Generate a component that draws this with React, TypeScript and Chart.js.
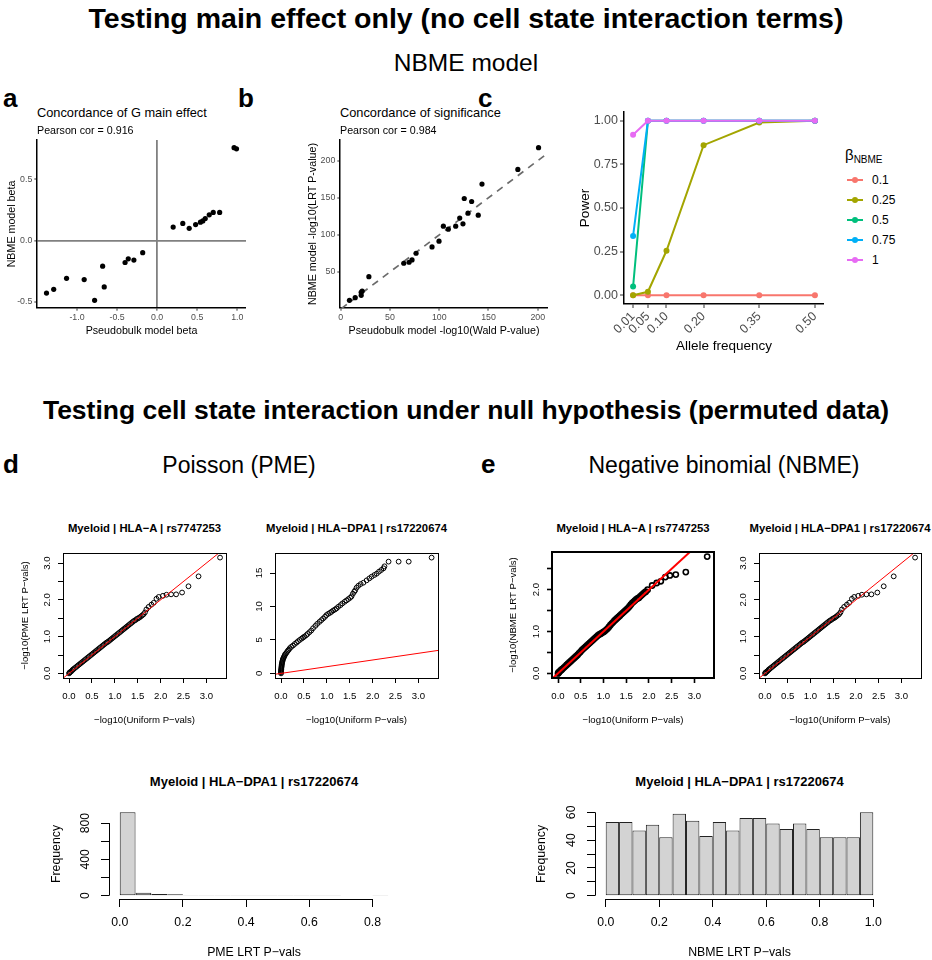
import React, { useEffect, useRef } from 'react';
import { Chart, registerables } from 'chart.js';

Chart.register(...registerables);

const FONT = '"Liberation Sans", Arial, Helvetica, sans-serif';
Chart.defaults.font.family = FONT;
Chart.defaults.color = '#000';

/* ================= DATA ================= */
// panel a: concordance of G main effect
const aPseudobulkBeta = [-1.38, -1.29, -1.13, -0.91, -0.78, -0.68, -0.66, -0.40, -0.36, -0.29, -0.18, 0.20, 0.32, 0.40, 0.48, 0.54, 0.57, 0.60, 0.65, 0.70, 0.78, 0.96, 0.99];
const aNbmeBeta = [-0.43, -0.40, -0.31, -0.32, -0.49, -0.21, -0.38, -0.18, -0.15, -0.16, -0.10, 0.11, 0.14, 0.10, 0.13, 0.15, 0.16, 0.18, 0.21, 0.23, 0.23, 0.76, 0.75];
const aXTicks = [-1, -0.5, 0, 0.5, 1];
const aYTicks = [-0.5, 0, 0.5];

// panel b: concordance of significance
const bPseudobulkLogP = [8.9, 14.7, 20.8, 20.8, 21.8, 28.6, 64.0, 69.4, 72.4, 76.5, 92.7, 99.8, 104.2, 109.2, 116.7, 120.8, 124.1, 125.4, 129.2, 132.9, 139.6, 143.4, 179.8, 200.8];
const bNbmeLogP = [11.7, 15.3, 18.5, 22.5, 24.3, 43.7, 61.7, 63.1, 66.2, 75.2, 83.8, 91.5, 111.7, 107.7, 111.7, 122.6, 114.9, 149.0, 129.3, 145.0, 126.6, 168.5, 188.2, 217.6];
const bXTicks = [0, 50, 100, 150, 200];
const bYTicks = [50, 100, 150, 200];
const bReferenceLine = [-10, 240]; // dashed y = x line

// panel c: power
const cAlleleFreq = [0.01, 0.05, 0.10, 0.20, 0.35, 0.50];
const cBetaLabels = ['0.1', '0.25', '0.5', '0.75', '1'];
const cPowerBeta01 = [0, 0, 0, 0, 0, 0];
const cPowerBeta025 = [0.0, 0.02, 0.255, 0.86, 0.99, 1.0];
const cPowerBeta05 = [0.05, 1, 1, 1, 1, 1];
const cPowerBeta075 = [0.34, 1, 1, 1, 1, 1];
const cPowerBeta1 = [0.92, 1, 1, 1, 1, 1];
const cColors = ['#F8766D', '#A3A500', '#00BF7D', '#00B0F6', '#E76BF3'];
const cYTicks = [0, 0.25, 0.5, 0.75, 1];

// QQ plots: [-log10(uniform p), -log10(observed p)]
const qqPmeHlaA: number[][] = [
  [0.00, 0.00], [0.01, 0.02], [0.02, 0.03], [0.04, 0.05], [0.06, 0.07], [0.08, 0.10], [0.10, 0.12], [0.13, 0.15], [0.16, 0.18], [0.19, 0.21],
  [0.22, 0.24], [0.25, 0.27], [0.28, 0.30], [0.31, 0.33], [0.34, 0.36], [0.37, 0.39], [0.40, 0.42], [0.43, 0.45], [0.46, 0.48], [0.49, 0.51],
  [0.52, 0.54], [0.55, 0.57], [0.58, 0.60], [0.61, 0.63], [0.64, 0.66], [0.67, 0.69], [0.70, 0.72], [0.73, 0.75], [0.76, 0.78], [0.79, 0.81],
  [0.82, 0.84], [0.85, 0.86], [0.88, 0.89], [0.91, 0.92], [0.94, 0.95], [0.97, 0.98], [1.00, 1.01], [1.03, 1.04], [1.06, 1.07], [1.09, 1.10],
  [1.12, 1.13], [1.15, 1.16], [1.18, 1.19], [1.21, 1.22], [1.24, 1.25], [1.27, 1.28], [1.30, 1.31], [1.33, 1.34], [1.36, 1.37], [1.39, 1.40],
  [1.42, 1.43], [1.45, 1.45], [1.48, 1.48], [1.51, 1.50], [1.54, 1.52], [1.57, 1.55], [1.60, 1.58], [1.63, 1.61], [1.66, 1.66], [1.69, 1.74],
  [1.74, 1.81], [1.80, 1.87], [1.85, 1.92], [1.91, 2.03], [1.96, 2.08], [2.05, 2.11], [2.13, 2.14], [2.23, 2.15], [2.34, 2.15], [2.47, 2.20],
  [2.61, 2.37], [2.83, 2.64], [3.30, 3.15],
];
const qqPmeHlaDpa1: number[][] = [
  [0.00, 0.00], [0.00, 0.15], [0.00, 0.30], [0.00, 0.45], [0.005, 0.60], [0.005, 0.75], [0.01, 0.90], [0.01, 1.05], [0.015, 1.20], [0.015, 1.35],
  [0.02, 1.50], [0.025, 1.65], [0.03, 1.80], [0.035, 1.95], [0.04, 2.10], [0.05, 2.25], [0.06, 2.40], [0.07, 2.55], [0.08, 2.70], [0.09, 2.85],
  [0.11, 3.00], [0.13, 3.20], [0.15, 3.40], [0.17, 3.55], [0.19, 3.75], [0.22, 3.95], [0.26, 4.15], [0.30, 4.40], [0.34, 4.60], [0.37, 4.80],
  [0.41, 5.00], [0.45, 5.20], [0.48, 5.35], [0.51, 5.50], [0.55, 5.70], [0.58, 5.90], [0.62, 6.15], [0.66, 6.40], [0.70, 6.75], [0.75, 7.10],
  [0.79, 7.40], [0.84, 7.70], [0.88, 7.95], [0.92, 8.20], [0.96, 8.45], [0.99, 8.70], [1.03, 8.90], [1.07, 9.05], [1.10, 9.20], [1.14, 9.40],
  [1.18, 9.55], [1.21, 9.70], [1.25, 9.95], [1.30, 10.20], [1.34, 10.45], [1.39, 10.70], [1.43, 10.90], [1.47, 11.10], [1.51, 11.30], [1.54, 11.50],
  [1.57, 11.90], [1.60, 12.20], [1.62, 12.40], [1.65, 12.80], [1.69, 13.10], [1.74, 13.35], [1.80, 13.55], [1.87, 13.90], [1.93, 14.20], [1.98, 14.45],
  [2.04, 14.70], [2.09, 14.90], [2.14, 15.20], [2.19, 15.45], [2.24, 15.70], [2.26, 16.00], [2.35, 16.70], [2.57, 16.70], [2.79, 16.70], [3.29, 17.30],
];
const qqNbmeHlaA: number[][] = [
  [0.00, 0.00], [0.01, 0.01], [0.02, 0.03], [0.04, 0.05], [0.06, 0.07], [0.08, 0.09], [0.10, 0.11], [0.13, 0.14], [0.16, 0.17], [0.19, 0.20],
  [0.22, 0.23], [0.25, 0.26], [0.28, 0.29], [0.31, 0.32], [0.34, 0.35], [0.37, 0.38], [0.40, 0.41], [0.43, 0.44], [0.46, 0.48], [0.49, 0.51],
  [0.52, 0.55], [0.55, 0.58], [0.58, 0.61], [0.61, 0.64], [0.64, 0.67], [0.67, 0.70], [0.70, 0.73], [0.73, 0.76], [0.76, 0.79], [0.79, 0.82],
  [0.82, 0.85], [0.85, 0.88], [0.88, 0.91], [0.91, 0.93], [0.94, 0.95], [0.97, 0.97], [1.00, 0.99], [1.03, 1.01], [1.06, 1.04], [1.09, 1.07],
  [1.12, 1.11], [1.15, 1.15], [1.18, 1.19], [1.21, 1.22], [1.24, 1.26], [1.27, 1.29], [1.30, 1.32], [1.33, 1.35], [1.36, 1.38], [1.39, 1.41],
  [1.42, 1.44], [1.45, 1.47], [1.48, 1.50], [1.51, 1.53], [1.54, 1.56], [1.57, 1.60], [1.60, 1.64], [1.63, 1.68], [1.66, 1.71], [1.69, 1.74],
  [1.72, 1.77], [1.75, 1.79], [1.78, 1.81], [1.81, 1.84], [1.84, 1.87], [1.87, 1.90], [1.90, 1.93], [1.93, 1.95], [1.97, 2.00], [2.07, 2.10],
  [2.17, 2.16], [2.26, 2.20], [2.36, 2.30], [2.46, 2.34], [2.59, 2.36], [2.81, 2.42], [3.28, 2.79],
];
const qqNbmeHlaDpa1: number[][] = qqPmeHlaA.map((p) => [p[0], p[1]]); // identical-looking panel
const qqXTicks = [0, 0.5, 1, 1.5, 2, 2.5, 3];
const qqReference = [-1, 20]; // red y = x line

// histograms of LRT p-values (bin width 0.05)
const pmeBinMids = [0.025, 0.075, 0.125, 0.175, 0.225, 0.275, 0.325, 0.375, 0.425, 0.475, 0.525, 0.575, 0.625, 0.675, 0.725, 0.775, 0.825];
const pmeCounts = [918, 33, 18, 15, 3, 2, 2, 1, 2, 1, 1, 1, 1, 1, 0, 0, 1];
const nbmeBinMids = [0.025, 0.075, 0.125, 0.175, 0.225, 0.275, 0.325, 0.375, 0.425, 0.475, 0.525, 0.575, 0.625, 0.675, 0.725, 0.775, 0.825, 0.875, 0.925, 0.975];
const nbmeCounts = [53, 53, 47, 51, 42, 59, 54, 43, 53, 47, 56, 56, 52, 48, 52, 48, 42, 42, 42, 60];

/* ================= HELPERS ================= */
type Frame = { left: number; top: number; width: number; height: number; box: number[] }; // box: x0,y0,x1,y1 (page px)

const zeroPad = (s: any) => { s.paddingLeft = 0; s.paddingRight = 0; s.paddingTop = 0; s.paddingBottom = 0; };
const fixWidth = (w: number) => (s: any) => { s.width = w; zeroPad(s); };
const fixHeight = (h: number) => (s: any) => { s.height = h; zeroPad(s); };
const useTicks = (vals: number[]) => (s: any) => { s.ticks = vals.map((v) => ({ value: v })); };

function base(f: Frame, scales: any) {
  return {
    animation: false,
    responsive: false,
    maintainAspectRatio: false,
    devicePixelRatio: 1,
    events: [],
    layout: { padding: { left: 0, bottom: 0, top: f.box[1] - f.top, right: f.left + f.width - f.box[2] } },
    plugins: { legend: { display: false }, tooltip: { enabled: false } },
    scales,
  };
}

type FrameOpts = {
  box?: number;
  axisX?: boolean;
  axisY?: boolean;
  yLabels?: { values: number[]; texts: string[]; offset: number; size: number };
};
function framePlugin(o: FrameOpts) {
  return {
    id: 'frame',
    afterDraw(chart: any) {
      const { ctx, chartArea: a, scales } = chart;
      ctx.save();
      ctx.strokeStyle = '#000';
      if (o.box) {
        ctx.lineWidth = o.box;
        const h = o.box % 2 === 1 ? 0.5 : 0;
        ctx.strokeRect(Math.round(a.left) + h, Math.round(a.top) + h, Math.round(a.right - a.left), Math.round(a.bottom - a.top));
      }
      if (o.axisX) {
        const s = scales.x;
        const t = s.ticks;
        const y = Math.round(a.bottom) + 0.5;
        ctx.lineWidth = 1;
        ctx.beginPath();
        ctx.moveTo(s.getPixelForValue(t[0].value), y);
        ctx.lineTo(s.getPixelForValue(t[t.length - 1].value), y);
        ctx.stroke();
      }
      if (o.axisY) {
        const s = scales.y;
        const t = s.ticks;
        const x = Math.round(a.left) + 0.5;
        ctx.lineWidth = 1;
        ctx.beginPath();
        ctx.moveTo(x, s.getPixelForValue(t[0].value));
        ctx.lineTo(x, s.getPixelForValue(t[t.length - 1].value));
        ctx.stroke();
      }
      if (o.yLabels) {
        const s = scales.y;
        const L = o.yLabels;
        ctx.fillStyle = '#000';
        ctx.font = `${L.size}px ${FONT}`;
        ctx.textAlign = 'center';
        ctx.textBaseline = 'middle';
        L.values.forEach((v, i) => {
          ctx.save();
          ctx.translate(a.left - L.offset, s.getPixelForValue(v));
          ctx.rotate(-Math.PI / 2);
          ctx.fillText(L.texts[i], 0, 0);
          ctx.restore();
        });
      }
      ctx.restore();
    },
  };
}

/* ---------- ggplot-style axes ---------- */
function ggAxis(kind: 'x' | 'y', f: Frame, min: number, max: number, ticks: number[], title: string, titlePos: number,
  fmt: (v: number) => string, zeroLine: boolean, sizes: { tick: number; title: number; tickLen: number; pad: number }) {
  const ax: any = {
    type: 'linear',
    min,
    max,
    afterBuildTicks: useTicks(ticks),
    ticks: { autoSkip: false, maxRotation: 0, minRotation: 0, padding: sizes.pad, font: { size: sizes.tick }, color: '#4d4d4d', callback: (v: any) => fmt(Number(v)) },
    grid: {
      drawOnChartArea: zeroLine,
      drawTicks: true,
      tickLength: sizes.tickLen,
      tickColor: '#333333',
      tickWidth: 1,
      color: (c: any) => (zeroLine && c.tick && c.tick.value === 0 ? '#808080' : 'rgba(0,0,0,0)'),
      lineWidth: (c: any) => (zeroLine && c.tick && c.tick.value === 0 ? 1.8 : 0),
    },
    border: { display: true, color: '#000', width: 1.5 },
    title: { display: true, text: title, color: '#000', font: { size: sizes.title } },
  };
  if (kind === 'x') {
    ax.afterFit = fixHeight(f.top + f.height - f.box[3]);
    ax.title.padding = { top: 0, bottom: f.top + f.height - titlePos - sizes.title * 0.6 };
  } else {
    ax.afterFit = fixWidth(f.box[0] - f.left);
    ax.title.padding = { top: titlePos - f.left - sizes.title * 0.6, bottom: 0 };
  }
  return ax;
}

const ggSmall = { tick: 8.8, title: 10.7, tickLen: 2.7, pad: 2 };

const frameA: Frame = { left: 0, top: 130, width: 252, height: 215, box: [37, 140, 246, 308] };
function configA() {
  const f = frameA;
  return {
    type: 'scatter',
    data: {
      datasets: [{
        data: aPseudobulkBeta.map((x, i) => ({ x, y: aNbmeBeta[i] })),
        pointRadius: 2.6, pointBackgroundColor: '#000', pointBorderColor: '#000', pointBorderWidth: 0,
      }],
    },
    options: base(f, {
      x: ggAxis('x', f, -1.4985, 1.1085, aXTicks, 'Pseudobulk model beta', 331, (v) => v.toFixed(1), true, ggSmall),
      y: ggAxis('y', f, -0.5525, 0.8225, aYTicks, 'NBME model beta', 12, (v) => v.toFixed(1), true, ggSmall),
    }),
  };
}

const frameB: Frame = { left: 300, top: 130, width: 255, height: 215, box: [340, 140, 548, 308] };
function configB() {
  const f = frameB;
  return {
    type: 'scatter',
    data: {
      datasets: [
        {
          data: bPseudobulkLogP.map((x, i) => ({ x, y: bNbmeLogP[i] })),
          pointRadius: 2.6, pointBackgroundColor: '#000', pointBorderColor: '#000', pointBorderWidth: 0,
        },
        {
          data: bReferenceLine.map((v) => ({ x: v, y: v })),
          showLine: true, borderColor: '#6b6b6b', borderWidth: 1.7, borderDash: [7, 6], pointRadius: 0,
        },
      ],
    },
    options: base(f, {
      x: ggAxis('x', f, -0.7, 210.4, bXTicks, 'Pseudobulk model -log10(Wald P-value)', 331, (v) => String(v), false, ggSmall),
      y: ggAxis('y', f, 1.4, 227.9, bYTicks, 'NBME model -log10(LRT P-value)', 313, (v) => String(v), false, ggSmall),
    }),
  };
}

const frameC: Frame = { left: 570, top: 100, width: 262, height: 265, box: [624, 112, 824, 304] };
function configC() {
  const f = frameC;
  const series = [cPowerBeta01, cPowerBeta025, cPowerBeta05, cPowerBeta075, cPowerBeta1];
  const big = { tick: 12.5, title: 13.5, tickLen: 4, pad: 2 };
  const x = ggAxis('x', f, -0.0145, 0.5245, cAlleleFreq, 'Allele frequency', 346, (v) => v.toFixed(2), false, big);
  x.ticks.minRotation = 45;
  x.ticks.maxRotation = 45;
  x.ticks.padding = 1;
  return {
    type: 'scatter',
    data: {
      datasets: series.map((s, k) => ({
        label: cBetaLabels[k],
        data: cAlleleFreq.map((fr, i) => ({ x: fr, y: s[i] })),
        showLine: true,
        borderColor: cColors[k],
        backgroundColor: cColors[k],
        pointBackgroundColor: cColors[k],
        pointBorderColor: cColors[k],
        pointBorderWidth: 0,
        pointRadius: 3,
        borderWidth: 2,
        order: series.length - 1 - k,
      })),
    },
    options: base(f, {
      x,
      y: ggAxis('y', f, -0.05, 1.05, cYTicks, 'Power', 585, (v) => v.toFixed(2), false, big),
    }),
  };
}

/* ---------- base-R style QQ plots ---------- */
function qqConfig(f: Frame, pts: number[][], yMin: number, yMax: number, yTicks: number[], yLabelVals: number[], digits: number,
  yTitle: string, yTitleX: number, heavy: boolean) {
  const fs = 9.6;
  const xH = f.top + f.height - f.box[3];
  const tw = heavy ? 1.6 : 1;
  return {
    type: 'scatter',
    data: {
      datasets: [
        { data: qqReference.map((v) => ({ x: v, y: v })), showLine: true, borderColor: '#ff0000', borderWidth: heavy ? 2 : 1, pointRadius: 0 },
        {
          data: pts.map(([x, y]) => ({ x, y })), showLine: false,
          pointRadius: heavy ? 2.6 : 2.4, pointBorderWidth: heavy ? 1.6 : 1.0,
          pointBorderColor: '#000', pointBackgroundColor: 'rgba(0,0,0,0)',
        },
      ],
    },
    options: base(f, {
      x: {
        type: 'linear', min: -0.132, max: 3.43, afterBuildTicks: useTicks(qqXTicks), afterFit: fixHeight(xH),
        ticks: { autoSkip: false, maxRotation: 0, minRotation: 0, padding: 8, font: { size: fs }, color: '#000', callback: (v: any) => Number(v).toFixed(1) },
        grid: { drawOnChartArea: false, drawTicks: true, tickLength: 5, tickColor: '#000', tickWidth: tw },
        border: { display: false },
        title: { display: true, text: '−log10(Uniform P−vals)', color: '#000', font: { size: fs }, padding: { top: 0, bottom: f.top + f.height - 720 - fs * 0.6 } },
      },
      y: {
        type: 'linear', min: yMin, max: yMax, afterBuildTicks: useTicks(yTicks), afterFit: fixWidth(f.box[0] - f.left),
        ticks: { autoSkip: false, callback: () => '' },
        grid: { drawOnChartArea: false, drawTicks: true, tickLength: 5, tickColor: '#000', tickWidth: tw },
        border: { display: false },
        title: { display: yTitle !== '', text: yTitle, color: '#000', font: { size: fs }, padding: { top: yTitleX - f.left - fs * 0.6, bottom: 0 } },
      },
    }),
    plugins: [framePlugin({
      box: heavy ? 2 : 1,
      yLabels: { values: yLabelVals, texts: yLabelVals.map((v) => v.toFixed(digits)), offset: 16, size: fs },
    })],
  };
}

const frameD1: Frame = { left: 5, top: 545, width: 230, height: 190, box: [63, 553, 226, 678] };
const frameD2: Frame = { left: 240, top: 545, width: 205, height: 190, box: [275, 553, 438, 678] };
const frameE1: Frame = { left: 475, top: 544, width: 245, height: 191, box: [552, 552, 714, 678] };
const frameE2: Frame = { left: 722, top: 545, width: 206, height: 190, box: [759, 553, 921, 678] };

const configD1 = () => qqConfig(frameD1, qqPmeHlaA, -0.125, 3.275, [0, 0.5, 1, 1.5, 2, 2.5, 3], [0, 1, 2, 3], 1, '−log10(PME LRT P−vals)', 25, false);
const configD2 = () => qqConfig(frameD2, qqPmeHlaDpa1, -0.69, 17.99, [0, 5, 10, 15], [0, 5, 10, 15], 0, '', 0, false);
const configE1 = () => qqConfig(frameE1, qqNbmeHlaA, -0.11, 2.9, [0, 0.5, 1, 1.5, 2, 2.5], [0, 1, 2], 1, '−log10(NBME LRT P−vals)', 513, true);
const configE2 = () => qqConfig(frameE2, qqNbmeHlaDpa1, -0.125, 3.275, [0, 0.5, 1, 1.5, 2, 2.5, 3], [0, 1, 2, 3], 1, '', 0, false);

/* ---------- base-R style histograms ---------- */
function histConfig(f: Frame, mids: number[], counts: number[], xMin: number, xMax: number, yMin: number, yMax: number,
  xTicks: number[], yTicks: number[], yLabelVals: number[], xTitle: string, yTitleX: number) {
  const fs = 12.3;
  return {
    type: 'bar',
    data: {
      datasets: [{
        data: mids.map((m, i) => ({ x: m, y: counts[i] })),
        backgroundColor: '#d3d3d3', borderColor: '#222', borderWidth: 1, borderSkipped: false,
        barPercentage: 1, categoryPercentage: 1, inflateAmount: 0,
      }],
    },
    options: base(f, {
      x: {
        type: 'linear', offset: false, min: xMin, max: xMax, afterBuildTicks: useTicks(xTicks), afterFit: fixHeight(f.top + f.height - f.box[3]),
        ticks: { autoSkip: false, maxRotation: 0, minRotation: 0, padding: 8.5, font: { size: fs }, color: '#000', callback: (v: any) => Number(v).toFixed(1) },
        grid: { offset: false, drawOnChartArea: false, drawTicks: true, tickLength: 8, tickColor: '#000', tickWidth: 1 },
        border: { display: false },
        title: { display: true, text: xTitle, color: '#000', font: { size: fs }, padding: { top: 0, bottom: 0 } },
      },
      y: {
        type: 'linear', min: yMin, max: yMax, afterBuildTicks: useTicks(yTicks), afterFit: fixWidth(f.box[0] - f.left),
        ticks: { autoSkip: false, callback: () => '' },
        grid: { drawOnChartArea: false, drawTicks: true, tickLength: 8, tickColor: '#000', tickWidth: 1 },
        border: { display: false },
        title: { display: true, text: 'Frequency', color: '#000', font: { size: fs }, padding: { top: yTitleX - f.left - fs * 0.6, bottom: 0 } },
      },
    }),
    plugins: [framePlugin({
      axisX: true,
      axisY: true,
      yLabels: { values: yLabelVals, texts: yLabelVals.map((v) => String(v)), offset: 23, size: fs },
    })],
  };
}

const frameD3: Frame = { left: 20, top: 795, width: 390, height: 165, box: [109, 809, 399, 899] };
const frameE3: Frame = { left: 505, top: 795, width: 395, height: 165, box: [595, 809, 884, 899] };
const configD3 = () => histConfig(frameD3, pmeBinMids, pmeCounts, -0.034, 0.884, -36.72, 954.72,
  [0, 0.2, 0.4, 0.6, 0.8], [0, 200, 400, 600, 800], [0, 400, 800], 'PME LRT P−vals', 57);
const configE3 = () => histConfig(frameE3, nbmeBinMids, nbmeCounts, -0.04, 1.04, -2.4, 62.4,
  [0, 0.2, 0.4, 0.6, 0.8, 1], [0, 10, 20, 30, 40, 50, 60], [0, 20, 40, 60], 'NBME LRT P−vals', 541.7);

/* ================= COMPONENTS ================= */
function ChartBox({ frame, make }: { frame: Frame; make: () => any }) {
  const ref = useRef<HTMLCanvasElement>(null);
  useEffect(() => {
    const chart = new Chart(ref.current as HTMLCanvasElement, make());
    return () => chart.destroy();
  }, []);
  return (
    <canvas
      ref={ref}
      width={frame.width}
      height={frame.height}
      style={{ position: 'absolute', left: frame.left, top: frame.top, width: frame.width, height: frame.height }}
    />
  );
}

function Txt({ x, y, size, bold, anchor, children }: { x: number; y: number; size: number; bold?: boolean; anchor?: string; children: any }) {
  const tx = anchor === 'start' ? '0' : anchor === 'end' ? '-100%' : '-50%';
  return (
    <div
      style={{
        position: 'absolute', left: x, top: y, transform: `translate(${tx}, -50%)`, fontSize: size,
        fontWeight: bold ? 'bold' : 'normal', fontFamily: FONT, lineHeight: 1, whiteSpace: 'nowrap', color: '#000',
      }}
    >
      {children}
    </div>
  );
}

function Legend() {
  return (
    <>
      <div style={{ position: 'absolute', left: 845, top: 147, fontFamily: FONT, fontSize: 15, lineHeight: 1, color: '#000' }}>
        β<span style={{ fontSize: 10, position: 'relative', top: 3 }}>NBME</span>
      </div>
      {cBetaLabels.map((lab, i) => {
        const y = 180 + 20 * i;
        return (
          <React.Fragment key={lab}>
            <div style={{ position: 'absolute', left: 847, top: y - 1, width: 16, height: 2, background: cColors[i] }} />
            <div style={{ position: 'absolute', left: 852, top: y - 3, width: 6, height: 6, borderRadius: 3, background: cColors[i] }} />
            <Txt x={872} y={y} size={12} anchor="start">{lab}</Txt>
          </React.Fragment>
        );
      })}
    </>
  );
}

export default function App() {
  return (
    <div style={{ position: 'absolute', left: 0, top: 0, width: 932, height: 960, background: '#fff', overflow: 'hidden' }}>
      <ChartBox frame={frameA} make={configA} />
      <ChartBox frame={frameB} make={configB} />
      <ChartBox frame={frameC} make={configC} />
      <ChartBox frame={frameD1} make={configD1} />
      <ChartBox frame={frameD2} make={configD2} />
      <ChartBox frame={frameE1} make={configE1} />
      <ChartBox frame={frameE2} make={configE2} />
      <ChartBox frame={frameD3} make={configD3} />
      <ChartBox frame={frameE3} make={configE3} />

      <Txt x={466} y={18} size={28.5} bold>Testing main effect only (no cell state interaction terms)</Txt>
      <Txt x={466} y={63} size={24.5}>NBME model</Txt>
      <Txt x={3} y={98} size={26} bold anchor="start">a</Txt>
      <Txt x={238} y={98} size={26} bold anchor="start">b</Txt>
      <Txt x={478} y={98} size={26} bold anchor="start">c</Txt>
      <Txt x={37} y={113} size={12.8} anchor="start">Concordance of G main effect</Txt>
      <Txt x={37} y={130} size={10.7} anchor="start">Pearson cor = 0.916</Txt>
      <Txt x={340} y={113} size={12.8} anchor="start">Concordance of significance</Txt>
      <Txt x={340} y={130} size={10.7} anchor="start">Pearson cor = 0.984</Txt>
      <Legend />

      <Txt x={466} y={410} size={26.5} bold>Testing cell state interaction under null hypothesis (permuted data)</Txt>
      <Txt x={3} y={464} size={26} bold anchor="start">d</Txt>
      <Txt x={239} y={465} size={23}>Poisson (PME)</Txt>
      <Txt x={481} y={464} size={26} bold anchor="start">e</Txt>
      <Txt x={724} y={465} size={23}>Negative binomial (NBME)</Txt>

      <Txt x={144.5} y={529} size={11.3} bold>Myeloid | HLA−A | rs7747253</Txt>
      <Txt x={356.5} y={529} size={11.3} bold>Myeloid | HLA−DPA1 | rs17220674</Txt>
      <Txt x={633} y={529} size={11.3} bold>Myeloid | HLA−A | rs7747253</Txt>
      <Txt x={840} y={529} size={11.3} bold>Myeloid | HLA−DPA1 | rs17220674</Txt>

      <Txt x={254} y={781} size={13} bold>Myeloid | HLA−DPA1 | rs17220674</Txt>
      <Txt x={739.5} y={781} size={13} bold>Myeloid | HLA−DPA1 | rs17220674</Txt>
    </div>
  );
}
